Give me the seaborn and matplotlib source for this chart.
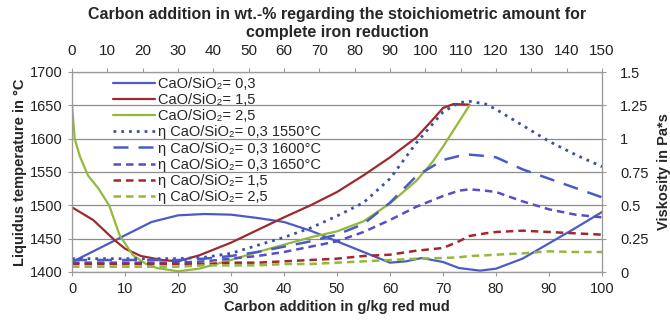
import numpy as np
import pandas as pd
import matplotlib
matplotlib.use("Agg")
import matplotlib.pyplot as plt
import seaborn as sns

# ------------------------------------------------------------
# Liquidus temperature (°C) vs carbon addition (g/kg red mud)
# ------------------------------------------------------------
x_b03 = [0, 5, 10, 15, 20, 25, 30, 35, 40, 45, 50, 55, 60, 63, 66, 70, 73, 77, 80, 85, 90, 95, 100]
t_b03 = [1415, 1435, 1455, 1475, 1485, 1487, 1486, 1481, 1475, 1462, 1446, 1430, 1414, 1416, 1421, 1415,
         1406, 1402, 1405, 1420, 1443, 1466, 1490]

x_b15 = [0, 4, 8, 10, 13, 17, 20, 24, 30, 35, 40, 45, 50, 55, 60, 65, 68, 70, 72, 75]
t_b15 = [1497, 1478, 1448, 1435, 1424, 1418, 1416, 1425, 1444, 1463, 1482, 1500, 1520, 1545, 1572,
         1602, 1628, 1646, 1652, 1651]

x_b25 = [0, 0.5, 1.5, 3, 5, 7, 9, 11.5, 14, 16, 20, 24, 30, 35, 40, 45, 50, 55, 60, 65, 68, 70, 75]
t_b25 = [1650, 1600, 1573, 1545, 1525, 1500, 1455, 1425, 1412, 1406, 1401, 1405, 1418, 1430, 1441,
         1452, 1461, 1476, 1503, 1537, 1565, 1588, 1650]

# ------------------------------------------------------------
# Viscosity (Pa*s)
# ------------------------------------------------------------
x_eta = [0, 10, 20, 25, 30, 35, 40, 45, 50, 55, 60, 65, 70, 73, 75, 78, 80, 85, 90, 95, 100]
eta_03_1550 = [0.10, 0.10, 0.10, 0.11, 0.14, 0.20, 0.26, 0.33, 0.42, 0.52, 0.70, 0.97, 1.20, 1.27,
               1.28, 1.26, 1.22, 1.10, 0.98, 0.88, 0.79]
eta_03_1600 = [0.09, 0.09, 0.09, 0.10, 0.12, 0.15, 0.19, 0.23, 0.28, 0.36, 0.52, 0.72, 0.84, 0.87,
               0.88, 0.87, 0.86, 0.77, 0.70, 0.63, 0.56]
eta_03_1650 = [0.07, 0.07, 0.07, 0.08, 0.10, 0.12, 0.15, 0.19, 0.23, 0.30, 0.39, 0.49, 0.57, 0.61,
               0.62, 0.61, 0.60, 0.53, 0.47, 0.43, 0.41]
eta_15 = [0.06, 0.06, 0.06, 0.06, 0.07, 0.07, 0.08, 0.09, 0.10, 0.12, 0.13, 0.16, 0.18, 0.23,
          0.27, 0.29, 0.30, 0.31, 0.30, 0.29, 0.28]
eta_25 = [0.04, 0.04, 0.04, 0.05, 0.05, 0.05, 0.06, 0.06, 0.07, 0.08, 0.09, 0.10, 0.105, 0.11,
          0.12, 0.125, 0.13, 0.14, 0.155, 0.15, 0.15]

top_ticks = list(range(0, 151, 10))
left_ticks = [1400, 1450, 1500, 1550, 1600, 1650, 1700]
right_ticks = [0, 0.25, 0.5, 0.75, 1, 1.25, 1.5]
right_labels = ["0", "0.25", "0.5", "0.75", "1", "1.25", "1.5"]

sns.set_theme(style="white")
plt.rcParams['font.family'] = ['Liberation Sans', 'DejaVu Sans']

fig = plt.figure(figsize=(6.7, 3.2), dpi=100)
ax = fig.add_axes([0.1075, 0.15, 0.791, 0.625])
ax2 = ax.twinx()

c_blue = '#4a5cc4'
c_red = '#a0292c'
c_green = '#93b83c'
c_navy = '#3d4fa8'
c_purple = '#5a4cc4'

sns.lineplot(x=x_b03, y=t_b03, ax=ax, color=c_blue, linewidth=1.6, label='CaO/SiO₂= 0,3', sort=False)
sns.lineplot(x=x_b15, y=t_b15, ax=ax, color=c_red, linewidth=1.6, label='CaO/SiO₂= 1,5', sort=False)
sns.lineplot(x=x_b25, y=t_b25, ax=ax, color=c_green, linewidth=1.6, label='CaO/SiO₂= 2,5', sort=False)

sns.lineplot(x=x_eta, y=eta_03_1550, ax=ax2, color=c_navy, linewidth=2.0, linestyle=(0, (1, 1.8)),
             label='η CaO/SiO₂= 0,3 1550°C')
sns.lineplot(x=x_eta, y=eta_03_1600, ax=ax2, color=c_blue, linewidth=1.8, linestyle=(0, (6, 4)),
             label='η CaO/SiO₂= 0,3 1600°C')
sns.lineplot(x=x_eta, y=eta_03_1650, ax=ax2, color=c_purple, linewidth=1.8, linestyle=(0, (3, 2)),
             label='η CaO/SiO₂= 0,3 1650°C')
sns.lineplot(x=x_eta, y=eta_15, ax=ax2, color=c_red, linewidth=1.8, linestyle=(0, (3, 2)),
             label='η CaO/SiO₂= 1,5')
sns.lineplot(x=x_eta, y=eta_25, ax=ax2, color=c_green, linewidth=1.8, linestyle=(0, (3, 2)),
             label='η CaO/SiO₂= 2,5')

for a in (ax, ax2):
    if a.get_legend() is not None:
        a.get_legend().remove()

ax.set_xlim(0, 100)
ax.set_ylim(1400, 1700)
ax.set_yticks(left_ticks)
ax.set_xticks(range(0, 101, 10))
ax.yaxis.grid(True, color='#8c8c8c', linewidth=0.9)
ax.set_axisbelow(True)
ax2.set_ylim(0, 1.5)
ax2.set_yticks(right_ticks)
ax2.set_yticklabels(right_labels)

ax3 = ax.twiny()
ax3.set_xlim(0, 150)
ax3.set_xticks(top_ticks)

for a in (ax, ax2, ax3):
    for s in a.spines.values():
        s.set_color('#9a9a9a')
        s.set_linewidth(0.8)
    a.tick_params(labelsize=10.5, colors='#222222', length=3, width=0.8, pad=2)
ax.tick_params(axis='both', color='#9a9a9a')
ax.tick_params(axis='x', pad=4)
ax2.tick_params(axis='y', color='#9a9a9a', pad=10)
ax3.tick_params(axis='x', color='#9a9a9a', labelsize=11, pad=7)
ax.tick_params(axis='y', pad=4)

ax.set_xlabel('Carbon addition in g/kg red mud', fontsize=10.5, fontweight='bold', labelpad=3)
ax.set_ylabel('Liquidus temperature in °C', fontsize=10.5, fontweight='bold', labelpad=2)
ax2.set_ylabel('Viskosity in Pa*s', fontsize=10.5, fontweight='bold', labelpad=6)
ax3.set_xlabel('Carbon addition in wt.-% regarding the stoichiometric amount for\ncomplete iron reduction',
               fontsize=11.5, fontweight='bold', labelpad=5, linespacing=1.3)

h1, l1 = ax.get_legend_handles_labels()
h2, l2 = ax2.get_legend_handles_labels()
leg = ax3.legend(h1 + h2, l1 + l2, loc='upper left', bbox_to_anchor=(0.06, 1.02), frameon=False,
                 fontsize=10.5, handlelength=2.9, handletextpad=0.2, labelspacing=0.15,
                 borderaxespad=0.2)

fig.savefig('out.png', dpi=100)
